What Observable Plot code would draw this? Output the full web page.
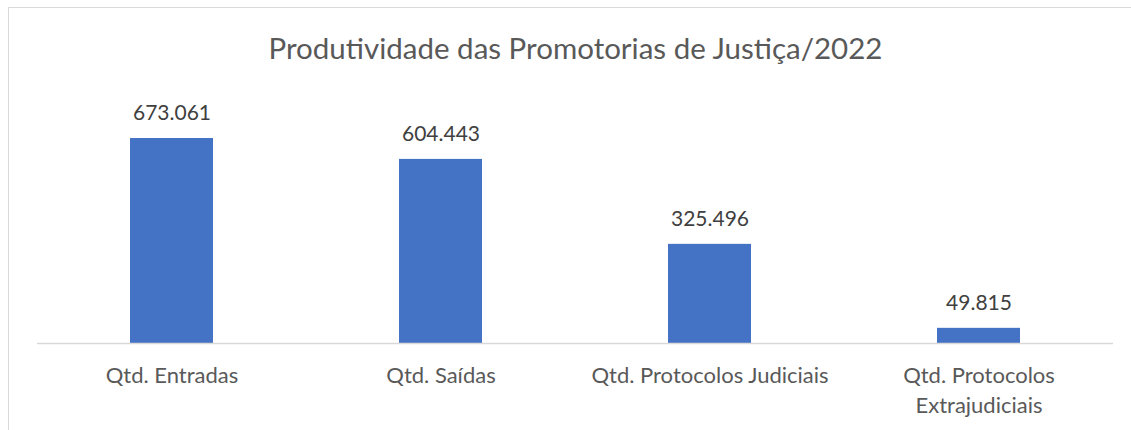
<!DOCTYPE html>
<html>
<head>
<meta charset="utf-8">
<script src="https://cdn.jsdelivr.net/npm/d3@7"></script>
<script src="https://cdn.jsdelivr.net/npm/@observablehq/plot@0.6"></script>
<style>
  html, body { margin: 0; padding: 0; background: #fff; }
  #wrap { position: relative; width: 1131px; height: 430px; overflow: hidden; }
  #frame { position: absolute; left: 8px; top: 7px; width: 1140px; height: 440px;
           border-left: 1px solid #d9d9d9; border-top: 1px solid #d9d9d9; box-sizing: border-box; }
  #title { position: absolute; left: 0; top: 0; width: 1151px; height: 80px; line-height: 96px;
           text-align: center; font-family: Lato, sans-serif; font-size: 29.5px; color: #595959; }
  #chart { position: absolute; left: 0; top: 80px; }
</style>
</head>
<body>
<div id="wrap">
  <div id="frame"></div>
  <div id="title">Produtividade das Promotorias de Justiça/2022</div>
  <div id="chart"></div>
</div>
<script>
const categories = ["Qtd. Entradas", "Qtd. Saídas", "Qtd. Protocolos Judiciais", "Qtd. Protocolos\nExtrajudiciais"];
const values = [673061, 604443, 325496, 49815];

const data = categories.map((c, i) => ({category: c, value: values[i]}));
const fmt = d3.formatLocale({thousands: ".", decimal: ",", grouping: [3], currency: ["", ""]}).format(",d");

const chart = Plot.plot({
  width: 1131,
  height: 350,
  marginLeft: 37,
  marginRight: 18,
  marginTop: 58,
  marginBottom: 87,
  style: {fontFamily: "Lato, sans-serif", fontSize: "20px", background: "transparent"},
  x: {domain: categories, paddingInner: 0.69, paddingOuter: 0.345, label: null},
  y: {domain: [0, 673061], axis: null},
  marks: [
    Plot.barY(data, {x: "category", y: "value", fill: "#4472C4"}),
    Plot.ruleY([0], {stroke: "#d9d9d9", strokeWidth: 1.3}),
    Plot.text(data, {x: "category", y: "value", text: d => fmt(d.value), dy: -25, fill: "#404040", fontSize: 21}),
    Plot.axisX({tickSize: 0, tickPadding: 18, fill: "#595959", fontSize: 22, lineHeight: 1.36, label: null})
  ]
});
document.getElementById("chart").appendChild(chart);
</script>
</body>
</html>
